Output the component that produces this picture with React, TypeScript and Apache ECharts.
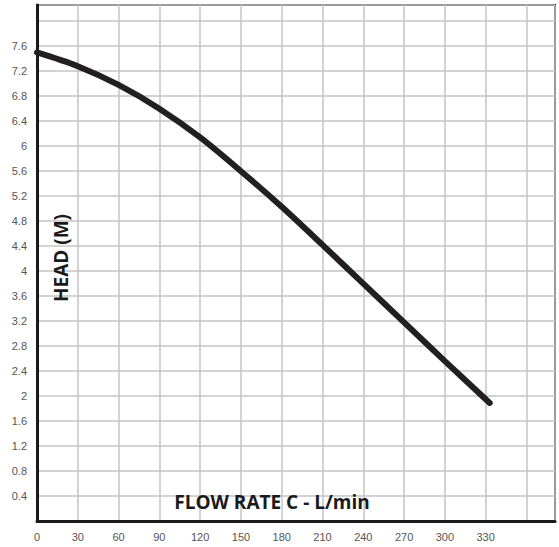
import React, { useEffect, useRef } from "react";
import * as echarts from "echarts";

const flowRates = [0, 30, 60, 90, 120, 150, 180, 210, 240, 270, 300, 333];
const heads = [7.5, 7.28, 6.98, 6.6, 6.14, 5.6, 5.03, 4.42, 3.8, 3.18, 2.56, 1.89];
const xTitle = "FLOW RATE C - L/min";
const yTitle = "HEAD (M)";
const xMaxLabel = 330;
const yMaxLabel = 7.6;

export default function App() {
  const ref = useRef<HTMLDivElement>(null);
  useEffect(() => {
    if (!ref.current) return;
    const chart = echarts.init(ref.current, undefined, { renderer: "svg" });
    const data = flowRates.map((x, i) => [x, heads[i]]);
    chart.setOption({
      animation: false,
      backgroundColor: "#fff",
      grid: {
        left: 37,
        right: 4,
        top: 5,
        bottom: 26,
        show: true,
        borderColor: "#222",
        borderWidth: 2,
        backgroundColor: "transparent",
      },
      xAxis: {
        type: "value",
        min: 0,
        max: 381,
        interval: 30,
        axisLine: { show: true, onZero: false, lineStyle: { color: "#1a1a1a", width: 3 } },
        axisTick: { show: false },
        splitLine: { show: true, lineStyle: { color: "#c4c4c4", width: 1.5 } },
        axisLabel: {
          color: "#555",
          fontFamily: "Liberation Sans, Arial, sans-serif",
          fontSize: 11,
          margin: 10,
          formatter: (v: number) => (v > xMaxLabel ? "" : String(v)),
        },
      },
      yAxis: {
        type: "value",
        min: 0,
        max: 8.26,
        interval: 0.4,
        axisLine: { show: true, onZero: false, lineStyle: { color: "#1a1a1a", width: 3 } },
        axisTick: { show: false },
        splitLine: { show: true, lineStyle: { color: "#c4c4c4", width: 1.5 } },
        axisLabel: {
          color: "#555",
          fontFamily: "Liberation Sans, Arial, sans-serif",
          fontSize: 11,
          margin: 10,
          formatter: (v: number) =>
            v <= 0.01 || v > yMaxLabel + 0.01 ? "" : String(Math.round(v * 10) / 10),
        },
      },
      graphic: [
        {
          type: "text",
          x: 272,
          y: 502,
          z: 10,
          style: {
            text: xTitle,
            fill: "#1a1a1a",
            font: "bold 19px 'Open Sans', 'DejaVu Sans', sans-serif",
            align: "center",
            verticalAlign: "middle",
          },
        },
        {
          type: "text",
          x: 61,
          y: 258,
          rotation: Math.PI / 2,
          z: 10,
          style: {
            text: yTitle,
            fill: "#1a1a1a",
            font: "bold 19px 'Open Sans', 'DejaVu Sans', sans-serif",
            align: "center",
            verticalAlign: "middle",
          },
        },
      ],
      series: [
        {
          type: "line",
          data,
          smooth: 0.3,
          showSymbol: false,
          lineStyle: { color: "#231f20", width: 6, cap: "round" },
          z: 5,
        },
      ],
    });
    return () => chart.dispose();
  }, []);
  return (
    <div
      ref={ref}
      style={{ position: "fixed", left: 0, top: 0, width: 559, height: 547 }}
    />
  );
}
